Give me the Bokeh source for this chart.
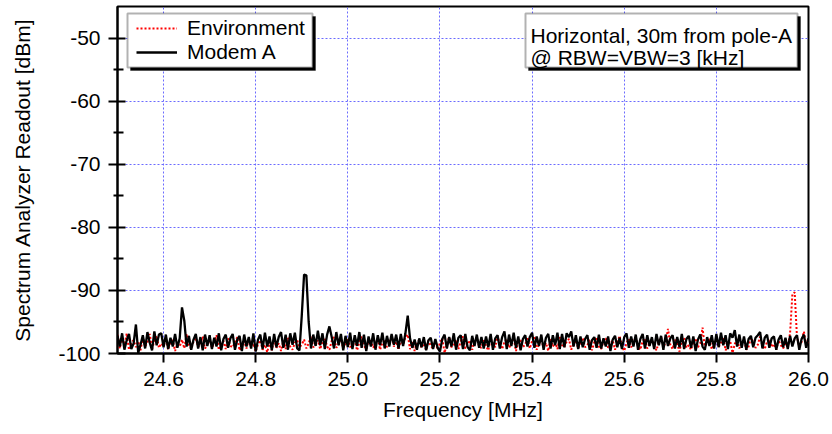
from bokeh.plotting import figure
from bokeh.models import (Range1d, FixedTicker, PrintfTickFormatter, Legend,
                          LegendItem, BoxAnnotation, Label, ColumnDataSource)
from bokeh.embed import file_html
from bokeh.resources import INLINE

# ---------------- data ----------------
F_START = 24.5      # MHz, first sweep point
F_STEP = 0.005      # MHz, sweep step

environment = [
    -97.0, -99.2, -97.5, -98.8, -96.8, -99.4, -98.3, -97.9, -99.0, -98.1, -99.5, -97.4, -98.9, -98.2, -96.9, -99.3, -98.0, -97.2, -99.1, -98.4,
    -98.8, -97.6, -99.4, -98.2, -97.9, -99.6, -98.5, -98.9, -97.8, -99.2, -96.9, -98.7, -99.3, -98.1, -97.5, -99.0, -98.4, -97.3, -99.2, -98.6,
    -97.8, -99.1, -98.3, -97.1, -99.4, -98.6, -98.0, -99.3, -97.6, -98.8, -99.0, -98.2, -97.4, -99.5, -98.7, -98.1, -99.2, -97.7, -98.9, -98.4,
    -99.7, -98.5, -97.9, -99.4, -98.6, -99.8, -98.2, -99.5, -97.8, -99.1, -98.4, -99.6, -98.0, -99.3, -97.5, -98.9, -99.4, -98.3, -97.9, -99.0,
    -98.6, -97.8, -99.2, -98.4, -97.3, -99.0, -98.7, -97.9, -99.3, -98.1, -97.5, -98.9, -99.4, -98.0, -97.4, -99.1, -98.5, -97.7, -99.2, -98.3,
    -97.6, -99.0, -98.4, -97.9, -99.5, -98.2, -97.3, -98.8, -99.3, -98.0, -97.7, -99.1, -98.5, -97.5, -99.4, -98.3, -97.9, -99.0, -98.6, -97.2,
    -98.9, -98.1, -99.4, -97.8, -98.6, -97.4, -97.0, -99.3, -98.2, -99.6, -98.5, -97.8, -99.1, -98.4, -99.5, -97.9, -98.8, -99.2, -98.0, -99.4,
    -98.3, -97.6, -99.9, -98.5, -97.4, -99.0, -98.7, -97.8, -99.3, -98.1, -97.3, -99.2, -98.6, -97.9, -99.4, -98.0, -97.5, -98.9, -99.1, -97.7,
    -98.8, -99.5, -97.6, -98.4, -99.0, -97.2, -98.7, -99.3, -98.1, -97.7, -99.1, -98.4, -97.5, -99.6, -98.2, -97.9, -99.0, -98.6, -97.4, -99.2,
    -98.0, -97.3, -99.4, -98.5, -97.8, -99.1, -98.3, -99.6, -97.6, -98.9, -98.2, -99.3, -97.4, -98.7, -99.0, -98.1, -97.7, -99.4, -98.5, -97.9,
    -99.2, -98.4, -97.5, -99.0, -98.7, -97.8, -99.5, -98.2, -97.4, -98.9, -99.3, -98.0, -97.6, -99.1, -98.5, -97.9, -99.4, -98.3, -97.2, -98.8,
    -99.6, -98.3, -97.7, -99.0, -98.4, -97.3, -98.9, -99.4, -98.0, -97.6, -99.2, -98.5, -97.9, -98.8, -99.5, -98.1, -97.4, -99.0, -98.2, -96.1,
    -98.6, -99.3, -97.8, -98.5, -99.7, -98.0, -97.5, -99.1, -98.7, -99.4, -98.2, -97.6, -99.0, -98.4, -95.9, -99.2, -98.1, -97.7, -99.3, -98.6,
    -97.9, -99.0, -98.3, -97.4, -99.5, -98.8, -98.0, -99.9, -98.5, -97.6, -99.2, -98.4, -97.8, -99.4, -98.9, -97.5, -98.2, -99.1, -98.6, -97.3,
    -98.8, -99.3, -98.1, -97.7, -99.0, -98.5, -99.4, -97.9, -98.7, -99.2, -98.4, -98.9, -96.8, -90.6, -90.3, -97.4, -98.9, -98.2, -96.5, -98.7,
    -98.0,
]

modem_a = [
    -97.2, -98.9, -96.8, -99.4, -97.9, -96.9, -99.3, -98.4, -95.4, -99.9, -98.6, -97.1, -99.2, -96.6, -98.3, -99.5, -96.5, -98.7, -97.0, -96.8,
    -99.0, -97.0, -99.3, -97.5, -98.9, -96.9, -99.1, -97.6, -92.7, -94.8, -98.9, -97.2, -99.4, -97.8, -96.9, -99.2, -97.4, -99.5, -97.0, -98.8,
    -97.1, -99.3, -97.5, -98.9, -96.8, -99.5, -97.7, -97.0, -99.1, -97.6, -96.9, -99.4, -97.8, -97.2, -99.6, -97.0, -98.9, -97.4, -99.2, -96.8,
    -99.7, -97.8, -97.0, -99.3, -96.7, -98.9, -97.3, -99.5, -96.9, -99.0, -97.4, -96.6, -99.1, -97.0, -99.4, -96.8, -98.6, -96.7, -99.2, -99.5,
    -94.0, -87.5, -87.6, -95.0, -99.2, -97.0, -98.8, -96.4, -98.7, -96.8, -99.3, -97.0, -95.7, -97.4, -99.2, -96.6, -98.7, -96.9, -99.5, -97.2,
    -99.0, -96.7, -99.3, -97.1, -98.8, -96.6, -99.1, -97.0, -99.6, -97.3, -98.9, -96.8, -99.4, -97.1, -98.7, -96.7, -99.2, -97.2, -98.9, -96.9,
    -98.6, -97.0, -99.2, -96.9, -98.8, -96.8, -94.0, -97.6, -99.1, -97.8, -99.4, -97.6, -99.0, -97.4, -99.5, -97.9, -97.5, -99.3, -97.7, -99.1,
    -99.7, -97.7, -97.0, -99.2, -97.4, -98.9, -96.8, -99.4, -97.5, -97.1, -99.3, -96.9, -99.0, -99.5, -97.2, -98.8, -97.0, -99.1, -97.4, -99.2,
    -97.3, -99.0, -96.9, -99.4, -97.6, -97.1, -99.2, -97.4, -96.5, -99.3, -97.0, -98.8, -96.7, -99.1, -97.3, -99.5, -97.7, -97.1, -98.9, -97.4,
    -96.7, -99.1, -97.3, -98.8, -97.0, -99.4, -97.5, -96.9, -99.2, -97.1, -98.7, -96.7, -99.3, -96.9, -99.0, -96.8, -97.4, -96.5, -98.9, -97.1,
    -99.3, -97.3, -99.0, -97.7, -97.1, -99.4, -97.9, -97.4, -99.1, -97.0, -99.2, -97.6, -98.9, -97.3, -99.6, -97.8, -97.2, -99.0, -97.5, -99.3,
    -97.4, -96.8, -99.1, -97.3, -98.9, -97.0, -99.4, -97.7, -96.9, -99.2, -97.1, -98.8, -97.4, -99.3, -96.9, -98.7, -97.2, -99.4, -97.0, -98.8,
    -97.6, -97.1, -99.2, -97.4, -99.0, -96.9, -99.3, -97.7, -97.2, -99.1, -97.3, -99.6, -97.8, -97.0, -98.9, -99.4, -97.4, -98.8, -97.1, -99.2,
    -96.9, -99.0, -96.7, -98.7, -97.1, -99.3, -96.8, -97.5, -96.3, -98.9, -97.0, -99.1, -97.3, -99.4, -97.7, -97.2, -99.0, -97.5, -97.1, -96.6,
    -99.2, -97.5, -97.0, -99.1, -97.6, -97.3, -99.4, -97.8, -97.1, -99.0, -97.5, -99.3, -97.2, -98.9, -97.6, -97.1, -99.4, -97.7, -97.0, -99.1,
    -97.6,
]

x_ticks = [24.6, 24.8, 25.0, 25.2, 25.4, 25.6, 25.8, 26.0]
y_ticks = [-100, -90, -80, -70, -60, -50]
y_minor_ticks = [-95, -85, -75, -65, -55]
X_RANGE = (24.5, 26.0)
Y_RANGE = (-100, -45)

series_labels = ["Environment", "Modem A"]
note_lines = ["Horizontal, 30m from pole-A", "@ RBW=VBW=3 [kHz]"]

freq_env = [F_START + i * F_STEP for i in range(len(environment))]
freq_mod = [F_START + i * F_STEP for i in range(len(modem_a))]

# ---------------- layout constants (screen pixels) ----------------
W, H = 830, 430
FR_L, FR_R, FR_T, FR_B = 117, 808, 6, 353    # frame edges
FONT = "Liberation Sans"
FS = "21px"

def dx(px):
    return X_RANGE[0] + (px - FR_L) * (X_RANGE[1] - X_RANGE[0]) / (FR_R - FR_L)

def dy(py):
    return Y_RANGE[0] + (FR_B - py) * (Y_RANGE[1] - Y_RANGE[0]) / (FR_B - FR_T)

p = figure(width=W, height=H, output_backend="svg", toolbar_location=None,
           x_range=Range1d(*X_RANGE), y_range=Range1d(*Y_RANGE),
           min_border_left=FR_L, min_border_right=W - FR_R,
           min_border_top=FR_T, min_border_bottom=H - FR_B)
p.background_fill_color = "white"
p.border_fill_color = "white"
p.outline_line_color = "black"
p.outline_line_width = 2

# axes
p.xaxis.ticker = FixedTicker(ticks=x_ticks, minor_ticks=[])
p.xaxis.formatter = PrintfTickFormatter(format="%.1f")
p.yaxis.ticker = FixedTicker(ticks=y_ticks, minor_ticks=y_minor_ticks)
p.yaxis.formatter = PrintfTickFormatter(format="%d")
p.xaxis.axis_label = "Frequency [MHz]"
p.yaxis.axis_label = "Spectrum Analyzer Readout [dBm]"
for ax in (p.xaxis[0], p.yaxis[0]):
    ax.axis_line_color = "black"
    ax.axis_line_width = 2
    ax.major_tick_line_color = "black"
    ax.major_tick_line_width = 2
    ax.minor_tick_line_color = "black"
    ax.minor_tick_line_width = 2
    ax.major_label_text_font = FONT
    ax.major_label_text_font_size = FS
    ax.major_label_text_color = "black"
    ax.axis_label_text_font = FONT
    ax.axis_label_text_font_size = FS
    ax.axis_label_text_font_style = "normal"
    ax.axis_label_text_color = "black"
p.xaxis.major_tick_in = 0
p.xaxis.major_tick_out = 9
p.xaxis.major_label_standoff = 9
p.xaxis.axis_label_standoff = 9
p.yaxis.major_tick_in = 8
p.yaxis.major_tick_out = 9
p.yaxis.minor_tick_in = 6
p.yaxis.minor_tick_out = 4
p.yaxis.major_label_standoff = 8
p.yaxis.axis_label_standoff = 21

# grid
p.xgrid.ticker = FixedTicker(ticks=x_ticks)
p.ygrid.ticker = FixedTicker(ticks=y_ticks)
for g in (p.xgrid[0], p.ygrid[0]):
    g.grid_line_color = "#6b6bff"
    g.grid_line_width = 1
    g.grid_line_dash = "2 2"

# data
src_env = ColumnDataSource(dict(f=freq_env, v=environment))
src_mod = ColumnDataSource(dict(f=freq_mod, v=modem_a))
r_env = p.line("f", "v", source=src_env, line_color="#ff0000", line_width=2,
               line_dash="2 2")
r_mod = p.line("f", "v", source=src_mod, line_color="black", line_width=2.3)

# boxes (shadow + white box) for legend and note
def framed_box(l, r, t, b):
    shadow = BoxAnnotation(left=dx(l + 3), right=dx(r + 3), top=dy(t + 3), bottom=dy(b + 3),
                           fill_color="black", fill_alpha=1, line_color="black", line_width=1)
    box = BoxAnnotation(left=dx(l), right=dx(r), top=dy(t), bottom=dy(b),
                        fill_color="white", fill_alpha=1, line_color="black", line_width=2)
    p.add_layout(shadow)
    p.add_layout(box)

framed_box(127, 312, 13, 67)
framed_box(525, 797, 13, 67)

for i, txt in enumerate(note_lines):
    p.add_layout(Label(x=dx(530), y=dy(35 + 22 * i), text=txt, text_font=FONT,
                       text_font_size=FS, text_color="black",
                       text_baseline="alphabetic", text_align="left"))

legend = Legend(items=[LegendItem(label=series_labels[0], renderers=[r_env]),
                       LegendItem(label=series_labels[1], renderers=[r_mod])],
                location=(16, 286), orientation="vertical",
                label_text_font=FONT, label_text_font_size=FS, label_text_color="black",
                glyph_width=41, glyph_height=20, label_height=20, label_standoff=10,
                padding=3, spacing=-2, margin=0,
                background_fill_alpha=0, border_line_alpha=0)
p.add_layout(legend, "center")

open("out.html", "w").write(file_html(p, INLINE))
